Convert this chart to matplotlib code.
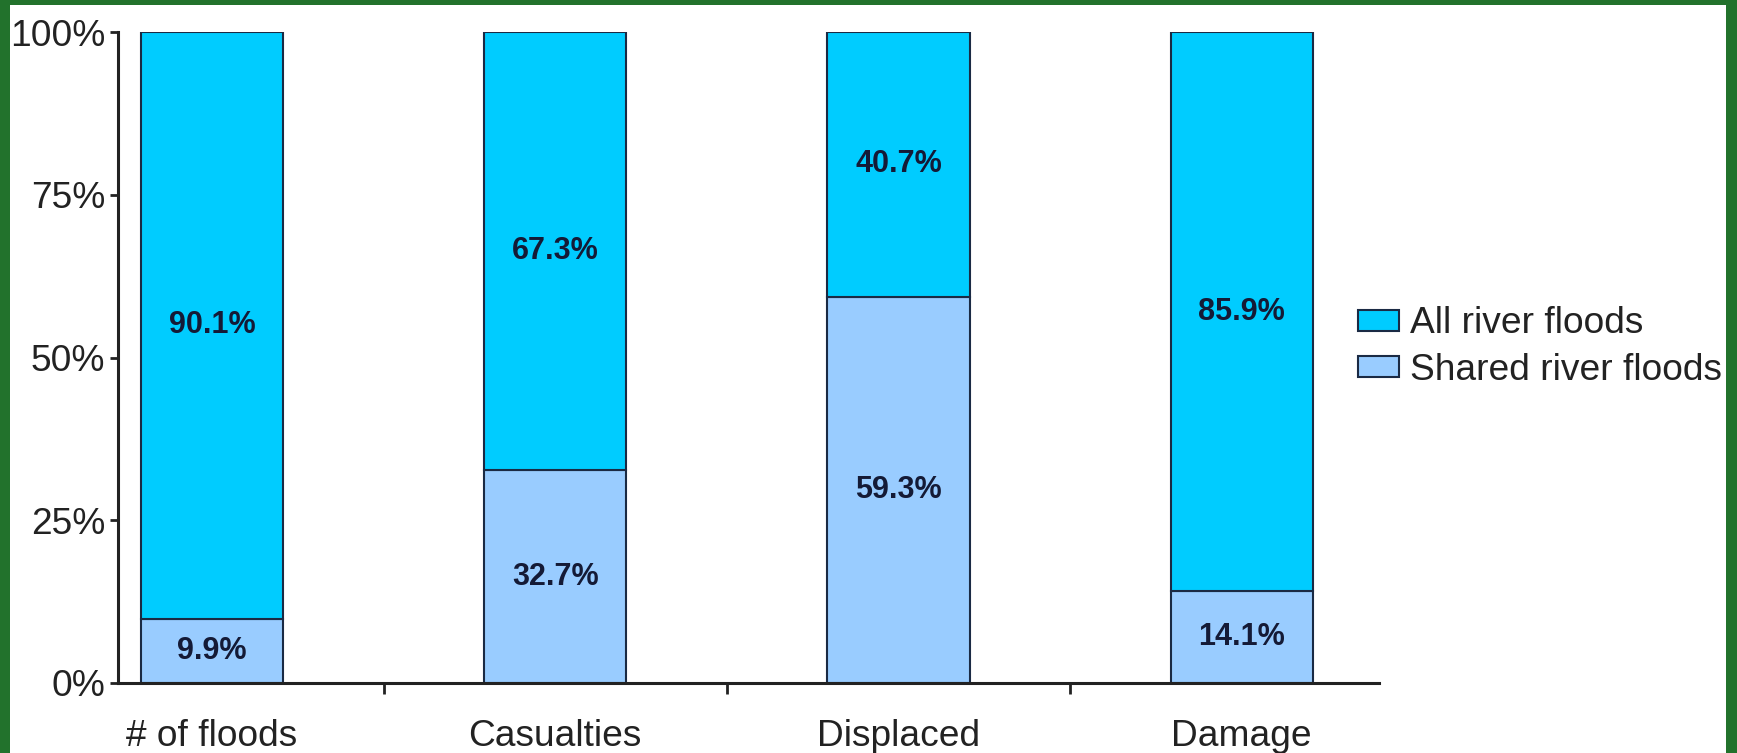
import numpy as np
import matplotlib.pyplot as plt
from matplotlib.patches import Rectangle

plt.rcParams['font.family'] = ['Liberation Sans', 'DejaVu Sans']

categories = ['# of floods', 'Casualties', 'Displaced', 'Damage']
shared = [9.9, 32.7, 59.3, 14.1]
all_floods = [90.1, 67.3, 40.7, 85.9]
y_ticks = [0, 25, 50, 75, 100]

c_all = '#00CCFF'
c_shared = '#99CCFF'
edge = '#1a2a44'
txt = '#141a36'

fig = plt.figure(figsize=(17.37, 7.53), dpi=100, facecolor='#22722c')
fig.patches.append(Rectangle((10 / 1737, 0), 1716 / 1737, 748 / 753,
                             transform=fig.transFigure, facecolor='white',
                             edgecolor='none', zorder=-5))
ax = fig.add_axes([118 / 1737, 70 / 753, 1261 / 1737, 651 / 753])
ax.set_facecolor('none')

x = np.arange(len(categories))
w = 0.414
ax.bar(x, shared, w, color=c_shared, edgecolor=edge, linewidth=1.5,
       label='Shared river floods', zorder=2)
ax.bar(x, all_floods, w, bottom=shared, color=c_all, edgecolor=edge,
       linewidth=1.5, label='All river floods', zorder=2)

for i in range(len(categories)):
    ax.text(x[i], shared[i] / 2, f'{shared[i]}%', ha='center', va='center',
            fontsize=22, fontweight='bold', color=txt)
    ax.text(x[i], shared[i] + all_floods[i] / 2, f'{all_floods[i]}%',
            ha='center', va='center', fontsize=22, fontweight='bold', color=txt)

ax.set_xlim(-0.274, 3.40)
ax.set_ylim(0, 100)
ax.set_yticks(y_ticks)
ax.set_yticklabels([f'{t}%' for t in y_ticks], fontsize=26.7, color='#222222')
ax.set_xticks(x)
ax.set_xticklabels(categories, fontsize=26.7, color='#222222')
ax.tick_params(axis='x', length=0, pad=26)
ax.set_xticks(x[:-1] + 0.5, minor=True)
ax.tick_params(axis='x', which='minor', length=8, width=2, color='#222222', direction='out')
ax.tick_params(axis='y', length=6, width=2, color='#222222', pad=3)

for s in ['top', 'right']:
    ax.spines[s].set_visible(False)
for s in ['left', 'bottom']:
    ax.spines[s].set_linewidth(2.2)
    ax.spines[s].set_color('#222222')

handles, labels = ax.get_legend_handles_labels()
leg = fig.legend(handles[::-1], labels[::-1], loc='center left',
                 bbox_to_anchor=(1325 / 1737, 406 / 753), frameon=False,
                 fontsize=26.7, handlelength=1.1, handleheight=0.5,
                 handletextpad=0.3, labelspacing=0.3)
for t in leg.get_texts():
    t.set_color('#222222')

fig.savefig('out.png', dpi=100, facecolor=fig.get_facecolor())
